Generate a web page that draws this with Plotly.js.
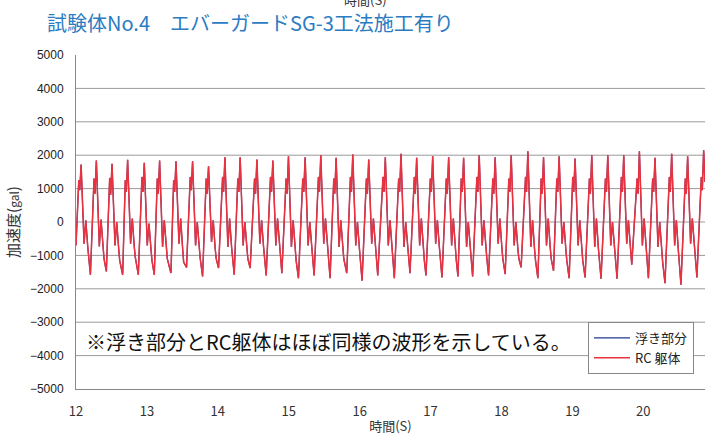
<!DOCTYPE html>
<html>
<head>
<meta charset="utf-8">
<script src="https://cdn.plot.ly/plotly-3.0.1.min.js"></script>
<style>
html,body{margin:0;padding:0;background:#fff;}
#chart{width:706px;height:435px;}
</style>
</head>
<body>
<div id="chart"></div>
<script>
// Time (s) and acceleration (gal)
const timeS = [
  12.000, 12.039, 12.053,
  12.072, 12.114, 12.138, 12.166, 12.180, 12.203, 12.254, 12.268,
  12.287, 12.329, 12.353, 12.381, 12.395, 12.428, 12.475, 12.489,
  12.508, 12.550, 12.574, 12.602, 12.616, 12.658, 12.695, 12.709,
  12.728, 12.770, 12.794, 12.822, 12.836, 12.879, 12.930, 12.944,
  12.963, 13.005, 13.029, 13.057, 13.071, 13.104, 13.146, 13.160,
  13.179, 13.221, 13.245, 13.273, 13.287, 13.339, 13.377, 13.391,
  13.410, 13.452, 13.476, 13.504, 13.518, 13.559, 13.611, 13.625,
  13.644, 13.686, 13.710, 13.738, 13.752, 13.785, 13.836, 13.850,
  13.869, 13.911, 13.935, 13.963, 13.977, 14.010, 14.067, 14.081,
  14.100, 14.142, 14.166, 14.194, 14.208, 14.231, 14.282, 14.296,
  14.315, 14.357, 14.381, 14.409, 14.423, 14.456, 14.518, 14.532,
  14.551, 14.593, 14.617, 14.645, 14.659, 14.682, 14.743, 14.757,
  14.776, 14.818, 14.842, 14.870, 14.884, 14.903, 14.963, 14.977,
  14.996, 15.038, 15.062, 15.090, 15.104, 15.137, 15.198, 15.212,
  15.231, 15.273, 15.297, 15.325, 15.339, 15.358, 15.419, 15.433,
  15.452, 15.494, 15.518, 15.546, 15.560, 15.583, 15.635, 15.649,
  15.668, 15.710, 15.734, 15.762, 15.776, 15.818, 15.870, 15.884,
  15.903, 15.945, 15.969, 15.997, 16.011, 16.034, 16.095, 16.109,
  16.128, 16.170, 16.194, 16.222, 16.236, 16.255, 16.329, 16.343,
  16.362, 16.404, 16.428, 16.456, 16.470, 16.489, 16.550, 16.564,
  16.583, 16.625, 16.649, 16.677, 16.691, 16.710, 16.771, 16.785,
  16.804, 16.846, 16.870, 16.898, 16.912, 16.935, 16.997, 17.011,
  17.030, 17.072, 17.096, 17.124, 17.138, 17.161, 17.222, 17.236,
  17.255, 17.297, 17.321, 17.349, 17.363, 17.386, 17.433, 17.447,
  17.466, 17.508, 17.532, 17.560, 17.574, 17.593, 17.653, 17.667,
  17.686, 17.728, 17.752, 17.780, 17.794, 17.818, 17.878, 17.892,
  17.911, 17.953, 17.977, 18.005, 18.019, 18.052, 18.104, 18.118,
  18.137, 18.179, 18.203, 18.231, 18.245, 18.277, 18.339, 18.353,
  18.372, 18.414, 18.438, 18.466, 18.480, 18.513, 18.560, 18.574,
  18.593, 18.635, 18.659, 18.687, 18.701, 18.734, 18.780, 18.794,
  18.813, 18.855, 18.879, 18.907, 18.921, 18.954, 19.005, 19.019,
  19.038, 19.080, 19.104, 19.132, 19.146, 19.179, 19.240, 19.254,
  19.273, 19.315, 19.339, 19.367, 19.381, 19.404, 19.466, 19.480,
  19.499, 19.541, 19.565, 19.593, 19.607, 19.630, 19.691, 19.705,
  19.724, 19.766, 19.790, 19.812, 19.825, 19.837, 19.912, 19.926,
  19.945, 19.987, 20.011, 20.039, 20.053, 20.072, 20.132, 20.146,
  20.165, 20.207, 20.231, 20.259, 20.273, 20.306, 20.367, 20.381,
  20.400, 20.442, 20.466, 20.494, 20.508, 20.531, 20.592, 20.606,
  20.625, 20.667, 20.691, 20.719, 20.733, 20.756, 20.818, 20.832,
  20.851, 20.870
];
const accelGal = [
  -700, 1250, 950,
  1720, -650, 50, -750, -1100, -1580, 1300, 850,
  1840, -730, 70, -780, -1100, -1480, 1320, 820,
  1740, -700, 0, -800, -1150, -1580, 1250, 900,
  1860, -650, 100, -750, -1050, -1580, 1350, 900,
  1770, -700, -50, -800, -1150, -1580, 1300, 850,
  1840, -750, 50, -700, -1100, -1530, 1250, 900,
  1820, -650, 100, -800, -1200, -1360, 1350, 950,
  1820, -700, 0, -750, -1100, -1630, 1300, 850,
  1670, -600, 50, -800, -1100, -1380, 1350, 900,
  1940, -750, 100, -750, -1050, -1580, 1300, 900,
  1940, -700, 0, -800, -1100, -1380, 1300, 850,
  1870, -650, 50, -750, -1150, -1600, 1350, 900,
  1840, -700, 100, -800, -1100, -1530, 1300, 850,
  1970, -750, 50, -800, -1150, -1680, 1300, 900,
  1940, -700, 0, -750, -1100, -1600, 1350, 900,
  2000, -650, 100, -800, -1150, -1680, 1300, 850,
  1920, -750, 50, -750, -1100, -1530, 1350, 900,
  2020, -700, 0, -800, -1200, -1760, 1300, 850,
  1870, -650, 100, -750, -1100, -1600, 1350, 900,
  1940, -700, 50, -800, -1150, -1680, 1300, 900,
  2040, -750, 0, -750, -1100, -1530, 1350, 850,
  1920, -700, 100, -800, -1150, -1600, 1300, 900,
  1970, -650, 50, -750, -1150, -1660, 1300, 850,
  1940, -700, 100, -800, -1150, -1630, 1300, 900,
  1920, -750, 0, -750, -1150, -1630, 1350, 900,
  2000, -700, 50, -800, -1100, -1600, 1300, 850,
  1940, -650, 100, -750, -1100, -1560, 1300, 900,
  2000, -700, 0, -800, -1100, -1360, 1350, 900,
  2120, -750, 50, -800, -1150, -1680, 1300, 850,
  1940, -700, 100, -750, -1100, -1460, 1300, 900,
  1970, -650, 0, -800, -1150, -1680, 1350, 900,
  1900, -700, 50, -750, -1150, -1660, 1300, 850,
  2000, -750, 100, -800, -1150, -1700, 1300, 900,
  2000, -700, 0, -800, -1150, -1700, 1350, 900,
  2000, -650, 50, -750, -1050, -1280, 1300, 850,
  2120, -700, 100, -800, -1150, -1680, 1300, 900,
  1920, -750, 0, -800, -1200, -1830, 1350, 900,
  2040, -700, 50, -850, -1250, -1880, 1300, 850,
  1970, -650, 100, -800, -1150, -1660, 1350, 950,
  2150, 1200
];

const xTicks = [12, 13, 14, 15, 16, 17, 18, 19, 20];
const yTicks = [5000, 4000, 3000, 2000, 1000, 0, -1000, -2000, -3000, -4000, -5000];
const gridVals = [4000, 3000, 2000, 1000, 0, -1000, -2000, -3000, -4000];
const seriesNames = ['浮き部分', 'RC 躯体'];
const chartTitle = '試験体No.4　エバーガードSG-3工法施工有り';
const noteText = '※浮き部分とRC躯体はほぼ同様の波形を示している。';
const xTitle = '時間(S)';
const yTitle = '加速度(<span style="font-size:12px">gal</span>)';

const jp = '"Noto Sans CJK JP", "Noto Sans", sans-serif';
const ar = '"Liberation Sans", Arial, sans-serif';

const traces = [
  {x: timeS, y: accelGal, type: 'scatter', mode: 'lines', name: seriesNames[0],
   line: {color: '#233a8f', width: 1.2}},
  {x: timeS, y: accelGal, type: 'scatter', mode: 'lines', name: seriesNames[1],
   line: {color: '#e8323f', width: 1.5}}
];

const shapes = gridVals.map(v => ({
  type: 'line', xref: 'paper', x0: 0, x1: 1, yref: 'y', y0: v, y1: v,
  line: {color: '#9a9a9a', width: 1}, layer: 'below'
}));

const layout = {
  width: 706, height: 435,
  margin: {l: 76, r: 1, t: 55, b: 46},
  paper_bgcolor: '#fff', plot_bgcolor: '#fff',
  showlegend: true,
  title: {text: chartTitle, x: 47/706, xanchor: 'left', y: 1 - 24/435, yanchor: 'middle',
          font: {family: jp, size: 20, color: '#2b7cc2'}},
  xaxis: {
    range: [12, 20.87], tickvals: xTicks, ticktext: xTicks.map(String),
    showgrid: false, zeroline: false,
    showline: true, linecolor: '#888', linewidth: 1,
    ticks: 'outside', ticklen: 10, tickcolor: 'rgba(0,0,0,0)',
    tickfont: {family: jp, size: 13, color: '#333'},
    title: {text: xTitle, standoff: 5, font: {family: jp, size: 13, color: '#333'}}
  },
  yaxis: {
    range: [-5000, 5000], tickvals: yTicks,
    showgrid: false, zeroline: false,
    showline: true, linecolor: '#888', linewidth: 1,
    ticks: 'outside', ticklen: 9, tickcolor: 'rgba(0,0,0,0)',
    tickfont: {family: ar, size: 12, color: '#222'},
    title: {text: yTitle, standoff: 6, font: {family: jp, size: 15, color: '#333'}}
  },
  legend: {
    x: (588 - 76) / 629, xanchor: 'left', y: (389 - 322) / 334, yanchor: 'top',
    bgcolor: '#fff', bordercolor: '#888', borderwidth: 1,
    font: {family: jp, size: 13, color: '#222'},
    tracegroupgap: 0, itemwidth: 36
  },
  shapes: shapes,
  annotations: [
    {text: noteText, xref: 'paper', yref: 'paper', x: (84 - 76) / 629, xanchor: 'left',
     y: (389 - 341) / 334, yanchor: 'middle', showarrow: false,
     font: {family: jp, size: 20, color: '#111'}},
    {text: xTitle, xref: 'paper', yref: 'paper', x: (365 - 76) / 629, xanchor: 'center',
     y: (389 + 1) / 334, yanchor: 'middle', showarrow: false,
     font: {family: jp, size: 13, color: '#333'}}
  ]
};

Plotly.newPlot('chart', traces, layout, {displayModeBar: false, staticPlot: true});
</script>
</body>
</html>
